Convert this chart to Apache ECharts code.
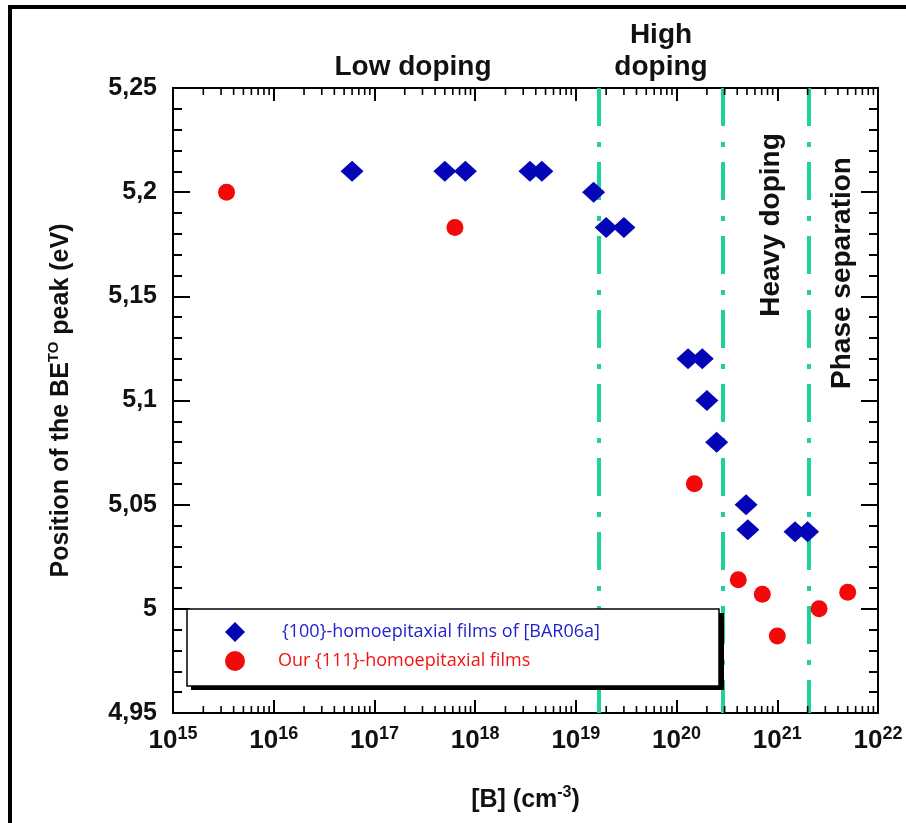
<!DOCTYPE html>
<html>
<head>
<meta charset="utf-8">
<script src="https://cdn.jsdelivr.net/npm/echarts@6/dist/echarts.min.js"></script>
<style>
  html, body { margin: 0; padding: 0; background: #fff; }
  #chart { width: 906px; height: 823px; }
</style>
</head>
<body>
<div id="chart"></div>
<script>
// ---- data ----
const blueName = '{100}-homoepitaxial films of [BAR06a]';
const redName = 'Our {111}-homoepitaxial films';
const blueX = [6.0e16, 5.0e17, 8.0e17, 3.5e18, 4.6e18, 1.5e19, 2.0e19, 3.0e19, 1.3e20, 1.8e20, 2.0e20, 2.5e20, 4.9e20, 5.1e20, 1.5e21, 2.0e21];
const blueY = [5.21, 5.21, 5.21, 5.21, 5.21, 5.20, 5.183, 5.183, 5.12, 5.12, 5.10, 5.08, 5.05, 5.038, 5.037, 5.037];
const redX = [3.4e15, 6.3e17, 1.5e20, 4.1e20, 7.1e20, 1.0e21, 2.6e21, 5.0e21];
const redY = [5.20, 5.183, 5.06, 5.014, 5.007, 4.987, 5.0, 5.008];
const regimeBounds = [1.67e19, 2.9e20, 2.03e21];
const xMin = 1e15, xMax = 1e22;
const yMin = 4.95, yMax = 5.25, yStep = 0.05;
const minorMultipliers = [2, 3, 4, 5, 6, 7, 8, 9];
const decades = [15, 16, 17, 18, 19, 20, 21];

const minorTicks = [];
decades.forEach(d => minorMultipliers.forEach(m => minorTicks.push([m * Math.pow(10, d), yMin])));

const F = 'Liberation Sans, Arial, sans-serif';
const teal = '#1fd09a';

const chart = echarts.init(document.getElementById('chart'));

const yLabel = v => String(+v.toFixed(2)).replace('.', ',');

chart.setOption({
  animation: false,
  backgroundColor: '#fff',
  grid: { left: 173, right: 28, top: 88, bottom: 110, containLabel: false },
  xAxis: [{
    type: 'log', logBase: 10, min: xMin, max: xMax, position: 'bottom',
    axisLine: { show: true, lineStyle: { color: '#000', width: 2 } },
    axisTick: { show: true, inside: true, length: 13, lineStyle: { color: '#000', width: 2 } },
    splitLine: { show: false },
    axisLabel: {
      margin: 12,
      formatter: v => '{b|10}{s|' + Math.round(Math.log10(v)) + '}',
      rich: {
        b: { fontFamily: F, fontWeight: 'bold', fontSize: 26, color: '#111', lineHeight: 32 },
        s: { fontFamily: F, fontWeight: 'bold', fontSize: 18, color: '#111', verticalAlign: 'top', lineHeight: 16 }
      }
    },
    name: '{a|[B] (cm}{s|-3}{a|)}', nameLocation: 'middle', nameGap: 72,
    nameTextStyle: {
      rich: {
        a: { fontFamily: F, fontWeight: 'bold', fontSize: 25, color: '#111', lineHeight: 30 },
        s: { fontFamily: F, fontWeight: 'bold', fontSize: 16, color: '#111', verticalAlign: 'top', lineHeight: 16 }
      }
    }
  }, {
    type: 'log', logBase: 10, min: xMin, max: xMax, position: 'top',
    axisLine: { show: true, lineStyle: { color: '#000', width: 2 } },
    axisTick: { show: true, inside: true, length: 13, lineStyle: { color: '#000', width: 2 } },
    axisLabel: { show: false }, splitLine: { show: false }
  }],
  yAxis: [{
    type: 'value', min: yMin, max: yMax, interval: yStep, position: 'left',
    axisLine: { show: true, lineStyle: { color: '#000', width: 2 } },
    axisTick: { show: true, inside: true, length: 17, lineStyle: { color: '#000', width: 2 } },
    minorTick: { show: true, splitNumber: 5, length: 9, lineStyle: { color: '#000', width: 2 } },
    splitLine: { show: false },
    axisLabel: { margin: 16, formatter: yLabel, fontFamily: F, fontWeight: 'bold', fontSize: 25, color: '#111' },
    name: '{a|Position of the BE}{s|TO}{a| peak (eV)}', nameLocation: 'middle', nameGap: 97, nameRotate: 90,
    nameTextStyle: {
      rich: {
        a: { fontFamily: F, fontWeight: 'bold', fontSize: 25, color: '#111', lineHeight: 30 },
        s: { fontFamily: F, fontWeight: 'bold', fontSize: 15, color: '#111', verticalAlign: 'top', lineHeight: 15 }
      }
    }
  }, {
    type: 'value', min: yMin, max: yMax, interval: yStep, position: 'right',
    axisLine: { show: true, lineStyle: { color: '#000', width: 2 } },
    axisTick: { show: true, inside: true, length: 17, lineStyle: { color: '#000', width: 2 } },
    minorTick: { show: true, splitNumber: 5, length: 9, lineStyle: { color: '#000', width: 2 } },
    splitLine: { show: false }, axisLabel: { show: false }
  }],
  legend: {
    orient: 'vertical', left: 225, top: 622, padding: 0, itemGap: 9,
    itemWidth: 20, itemHeight: 20, z: 101, selectedMode: false,
    textStyle: { fontFamily: 'Open Sans, Noto Sans, sans-serif', fontSize: 18, lineHeight: 20 },
    data: [
      { name: blueName, icon: 'diamond', textStyle: { color: '#2323cc', padding: [0, 0, 0, 32] } },
      { name: redName, icon: 'circle', textStyle: { color: '#f01414', padding: [0, 0, 0, 28] } }
    ]
  },
  graphic: [
    { type: 'rect', z: 100, shape: { x: 191, y: 613, width: 533, height: 77 }, style: { fill: '#000' } },
    { type: 'rect', z: 100, shape: { x: 187, y: 609, width: 532, height: 77 }, style: { fill: '#fff', stroke: '#000', lineWidth: 1.5 } },
    { type: 'line', z: 100, shape: { x1: 8, y1: 7, x2: 906, y2: 7 }, style: { stroke: '#000', lineWidth: 4 } },
    { type: 'line', z: 100, shape: { x1: 10, y1: 5, x2: 10, y2: 823 }, style: { stroke: '#000', lineWidth: 4 } },
    { type: 'text', z: 100, x: 413, y: 67, style: { text: 'Low doping', font: 'bold 28px ' + F, fill: '#111', textAlign: 'center', textVerticalAlign: 'middle' } },
    { type: 'text', z: 100, x: 661, y: 51, style: { text: 'High\ndoping', font: 'bold 28px ' + F, fill: '#111', textAlign: 'center', textVerticalAlign: 'middle', lineHeight: 32 } },
    { type: 'text', z: 100, x: 771, y: 225, rotation: Math.PI / 2, style: { text: 'Heavy doping', font: 'bold 28px ' + F, fill: '#111', textAlign: 'center', textVerticalAlign: 'middle' } },
    { type: 'text', z: 100, x: 842, y: 273, rotation: Math.PI / 2, style: { text: 'Phase separation', font: 'bold 28px ' + F, fill: '#111', textAlign: 'center', textVerticalAlign: 'middle' } }
  ],
  series: [
    {
      name: 'regimes', type: 'line', data: [], z: 1, silent: true,
      markLine: {
        z: 1, silent: true, symbol: 'none', label: { show: false },
        lineStyle: { color: teal, width: 4, type: [38, 16, 5, 15] },
        data: regimeBounds.map(v => [{ coord: [v, yMax] }, { coord: [v, yMin] }])
      }
    },
    {
      name: blueName, type: 'scatter', symbol: 'diamond', symbolSize: [23, 21], z: 3,
      itemStyle: { color: '#0505b8', opacity: 1 },
      data: blueX.map((x, i) => [x, blueY[i]])
    },
    {
      name: redName, type: 'scatter', symbol: 'circle', symbolSize: 17, z: 3,
      itemStyle: { color: '#f20a0a', opacity: 1 },
      data: redX.map((x, i) => [x, redY[i]])
    },
    {
      name: 'minorTicks', type: 'custom', silent: true, z: 4, clip: false,
      data: minorTicks,
      renderItem: (params, api) => {
        const v = api.value(0);
        const b = api.coord([v, yMin]);
        const t = api.coord([v, yMax]);
        return {
          type: 'group', children: [
            { type: 'line', shape: { x1: b[0], y1: b[1], x2: b[0], y2: b[1] - 7 }, style: { stroke: '#000', lineWidth: 1.6 } },
            { type: 'line', shape: { x1: t[0], y1: t[1], x2: t[0], y2: t[1] + 7 }, style: { stroke: '#000', lineWidth: 1.6 } }
          ]
        };
      }
    }
  ]
});
</script>
</body>
</html>
